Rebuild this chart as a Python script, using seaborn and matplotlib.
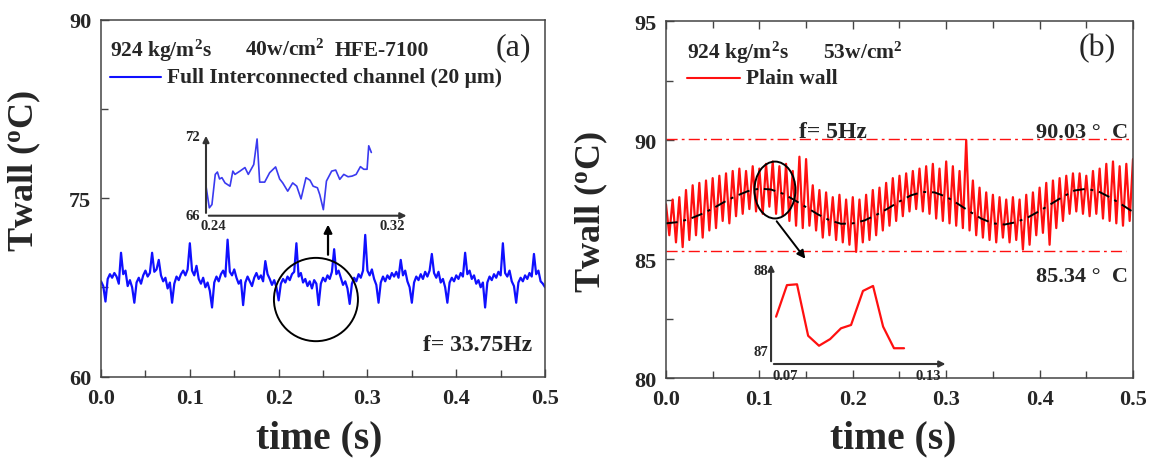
import numpy as np
import pandas as pd
import matplotlib
matplotlib.use("Agg")
import matplotlib.pyplot as plt
import seaborn as sns
from matplotlib.patches import Ellipse
from matplotlib.ticker import MultipleLocator, FormatStrFormatter

# ---------------- data ----------------
# (a) full interconnected channel, wall temperature sampled every 2.5 ms
twall_a = [
    68.0, 67.6, 66.3, 68.2, 68.6, 68.3, 68.7, 68.4, 67.8, 70.4,
    68.6, 68.9, 67.6, 68.1, 67.5, 66.2, 67.9, 68.3, 67.8, 68.5,
    68.9, 68.4, 68.7, 70.4, 68.8, 69.0, 69.8, 68.5, 68.0, 68.3,
    67.4, 67.9, 66.2, 67.8, 68.4, 68.1, 68.6, 68.9, 68.5, 69.0,
    71.2, 68.9, 68.5, 69.3, 68.2, 67.8, 68.3, 67.5, 67.9, 67.2,
    65.8, 67.9, 68.4, 68.0, 68.6, 68.9, 68.4, 71.5, 68.8, 68.5,
    69.0, 68.3, 67.8, 68.1, 66.0, 67.9, 68.4, 68.0, 67.6, 68.3,
    68.7, 68.2, 68.5, 68.0, 69.7, 68.6, 68.2, 67.7, 68.1, 67.5,
    66.4, 67.8, 68.2, 67.9, 68.4, 68.1, 68.6, 68.8, 71.2, 68.4,
    68.7, 67.9, 68.2, 67.6, 68.0, 67.4, 68.1, 67.8, 66.0, 67.8,
    68.3, 68.0, 68.5, 68.2, 68.8, 70.7, 68.6, 68.9, 68.3, 67.7,
    68.0, 67.4, 66.1, 67.8, 68.3, 68.0, 68.6, 68.3, 68.9, 71.9,
    68.9, 68.5, 69.0, 68.2, 67.7, 66.2, 67.9, 68.4, 68.0, 68.5,
    68.2, 68.7, 68.4, 68.8, 68.3, 69.8, 68.5, 68.9, 68.0, 67.5,
    66.2, 67.9, 68.4, 68.1, 68.6, 68.2, 68.8, 68.4, 68.9, 70.3,
    68.7, 68.3, 68.8, 67.9, 68.2, 67.5, 66.2, 67.9, 68.3, 68.0,
    68.5, 68.2, 68.7, 68.4, 70.4, 68.6, 68.9, 68.2, 68.5, 67.8,
    68.1, 67.5, 67.9, 65.8, 67.9, 68.4, 68.1, 68.6, 68.3, 68.8,
    68.5, 71.2, 68.7, 68.4, 68.9, 68.0, 67.6, 66.2, 67.9, 68.3,
    68.0, 68.5, 68.2, 68.7, 68.4, 70.3, 68.6, 68.9, 68.0, 67.8,
    67.5,
]

# zoomed window of (a)
t_zoom_a = [
    0.2400, 0.2414, 0.2425, 0.2439, 0.2448, 0.2457, 0.2467, 0.2480, 0.2501,
    0.2513, 0.2522, 0.2543, 0.2564, 0.2578, 0.2601, 0.2615, 0.2626, 0.2647,
    0.2668, 0.2693, 0.2710, 0.2723, 0.2744, 0.2765, 0.2782, 0.2800, 0.2821,
    0.2838, 0.2851, 0.2869, 0.2879, 0.2894, 0.2907, 0.2929, 0.2946, 0.2963,
    0.2980, 0.2998, 0.3015, 0.3032, 0.3050, 0.3064, 0.3078, 0.3085, 0.3096,
]
twall_zoom_a = [
    68.25, 66.60, 66.85, 69.15, 69.33, 68.80, 68.90, 68.50, 68.25,
    69.40, 69.15, 69.40, 69.67, 69.15, 69.90, 71.85, 68.56, 68.56,
    69.28, 69.72, 68.80, 68.50, 67.87, 68.50, 68.25, 67.28, 68.90,
    68.70, 68.25, 68.13, 67.60, 66.46, 68.64, 69.40, 69.48, 68.77,
    69.15, 68.97, 69.02, 69.15, 69.74, 69.54, 69.54, 71.33, 70.82,
]

# (b) plain wall, wall temperature (alternating crest / trough samples)
twall_b = [
    87.3,
    86.0, 87.5, 85.7, 87.6, 85.5, 87.9, 85.8, 88.1, 86.0, 88.2,
    85.9, 88.3, 86.2, 88.4, 86.3, 88.5, 86.6, 88.6, 86.5, 88.7,
    86.8, 88.8, 86.9, 88.7, 87.1, 88.9, 87.0, 88.8,
    86.9, 89.0, 87.2, 89.1, 86.9, 88.9, 86.8, 89.0, 86.6, 88.7,
    86.4, 89.3, 86.3, 89.2, 86.4, 88.1, 86.2, 87.9, 85.9, 87.8,
    86.0, 87.6, 85.8, 87.7, 85.7, 87.5, 85.6, 87.6,
    85.3, 87.5, 85.7, 87.7, 85.8, 87.9, 86.0, 88.0, 86.2, 88.2,
    86.4, 88.4, 86.6, 88.5, 86.8, 88.6, 87.0, 88.7, 87.1, 88.8,
    87.0, 88.9, 86.9, 89.0, 86.7, 88.8, 86.6, 89.1,
    86.5, 88.9, 86.4, 88.7, 86.3, 90.0, 86.2, 88.3, 86.0, 88.0,
    85.9, 87.8, 85.8, 87.7, 85.7, 87.6, 85.9, 87.5, 85.7, 87.6,
    85.8, 87.5, 85.4, 87.7, 85.6, 87.8, 86.0, 88.0,
    86.1, 88.2, 85.6, 88.3, 86.3, 88.4, 86.6, 88.5, 86.9, 88.6,
    87.0, 88.6, 86.9, 88.5, 86.8, 88.7, 86.9, 88.8, 86.7, 89.0,
    86.6, 89.1, 86.5, 88.9, 86.4, 89.0, 86.6, 89.2,
]

# 5 Hz fitted trend of (b), every 12.5 ms
trend_b = [
    86.50, 86.55, 86.68, 86.88, 87.12, 87.40, 87.65, 87.85, 87.96, 87.92,
    87.75, 87.48, 87.18, 86.88, 86.63, 86.48, 86.50, 86.62, 86.85, 87.12,
    87.42, 87.68, 87.82, 87.80, 87.62, 87.32, 87.00, 86.70, 86.50, 86.45,
    86.55, 86.75, 87.02, 87.32, 87.62, 87.88, 87.95, 87.85, 87.60, 87.30,
    86.98,
]

# zoomed window of (b)
t_zoom_b = [0.0719, 0.0760, 0.0798, 0.0840, 0.0881, 0.0923, 0.0964,
            0.1002, 0.1047, 0.1085, 0.1123, 0.1164, 0.1202]
twall_zoom_b = [87.45, 87.83, 87.84, 87.22, 87.10, 87.18, 87.31,
                87.35, 87.76, 87.82, 87.33, 87.07, 87.07]

t_max_level = 90.03
t_min_level = 85.34

time_a = np.linspace(0.0, 0.5, len(twall_a))
time_b = np.linspace(0.0, 0.5, len(twall_b))
time_trend = np.linspace(0.0, 0.5, len(trend_b))

df_a = pd.DataFrame({"time": time_a, "Twall": twall_a})
df_b = pd.DataFrame({"time": time_b, "Twall": twall_b})
df_trend = pd.DataFrame({"time": time_trend, "Twall": trend_b})
df_za = pd.DataFrame({"time": t_zoom_a, "Twall": twall_zoom_a})
df_zb = pd.DataFrame({"time": t_zoom_b, "Twall": twall_zoom_b})

# ---------------- style ----------------
sns.set_theme(style="ticks")
plt.rcParams["font.family"] = ["Liberation Serif", "DejaVu Serif"]
plt.rcParams["font.weight"] = "bold"
plt.rcParams["axes.labelweight"] = "bold"
plt.rcParams["mathtext.default"] = "regular"

BLUE = "#1010ff"
RED = "#ff1010"
SPINE = "#444444"
TXT = 15.5

fig = plt.figure(figsize=(11.56, 4.6), dpi=100)
fig.patch.set_facecolor("white")
ax_a = fig.add_axes([0.0874, 0.1793, 0.3841, 0.7761])
ax_b = fig.add_axes([0.5761, 0.1760, 0.4040, 0.7761])


def style_main(ax, ylo, yhi, ymajor, top_ticks):
    ax.set_xlim(0.0, 0.5)
    ax.set_ylim(ylo, yhi)
    ax.xaxis.set_major_locator(MultipleLocator(0.1))
    ax.xaxis.set_minor_locator(MultipleLocator(0.05))
    ax.xaxis.set_major_formatter(FormatStrFormatter("%.1f"))
    ax.yaxis.set_major_locator(MultipleLocator(ymajor))
    ax.yaxis.set_minor_locator(MultipleLocator(ymajor / 2))
    ax.tick_params(which="both", direction="in", width=1.0, color=SPINE,
                   labelsize=16, top=top_ticks, right=False)
    ax.tick_params(which="major", length=6)
    ax.tick_params(which="minor", length=5)
    ax.tick_params(axis="y", pad=7)
    ax.tick_params(axis="x", pad=8)
    for s in ax.spines.values():
        s.set_color(SPINE)
        s.set_linewidth(1.1)
        s.set_visible(True)
    ax.set_xlabel("time (s)", fontsize=28.5, fontweight="bold")
    ax.set_ylabel("Twall ($^{o}$C)", fontsize=26, fontweight="bold")


# ---------------- panel (a) ----------------
sns.lineplot(data=df_a, x="time", y="Twall", ax=ax_a, color=BLUE,
             linewidth=1.6, estimator=None, sort=False)
style_main(ax_a, 60, 90, 15, False)
ax_a.xaxis.set_label_coords(0.492, -0.12)
ax_a.yaxis.set_label_coords(-0.131, 0.577)

ax_a.text(0.02, 0.916, "924 kg/m$^{2}$s", transform=ax_a.transAxes,
          fontsize=TXT, va="center", ha="left")
ax_a.text(0.324, 0.916, "40w/cm$^{2}$", transform=ax_a.transAxes,
          fontsize=TXT, va="center", ha="left")
ax_a.text(0.527, 0.916, "HFE-7100", transform=ax_a.transAxes,
          fontsize=TXT, va="center", ha="left")
ax_a.plot([0.02, 0.135], [0.840, 0.840], transform=ax_a.transAxes,
          color=BLUE, lw=1.5)
ax_a.text(0.149, 0.840, "Full Interconnected channel (20 μm)",
          transform=ax_a.transAxes, fontsize=TXT, va="center", ha="left")
ax_a.text(0.928, 0.924, "(a)", transform=ax_a.transAxes, fontsize=23,
          fontweight="normal", va="center", ha="center")
ax_a.text(0.847, 0.09, "f= 33.75Hz", transform=ax_a.transAxes,
          fontsize=17, va="center", ha="center")

ax_a.add_patch(Ellipse((0.242, 66.47), 0.0946, 7.0, fill=False,
                       edgecolor="black", lw=1.4, zorder=5))
ax_a.annotate("", xy=(0.2556, 73.0), xytext=(0.2556, 70.0),
              arrowprops=dict(arrowstyle="-|>", color="black", lw=1.6,
                              mutation_scale=12))

# inset of (a)
ins_a = fig.add_axes([0.1782, 0.5289, 0.1644, 0.1711])
ins_a.patch.set_alpha(0)
sns.lineplot(data=df_za, x="time", y="Twall", ax=ins_a, color="#3a3af0",
             linewidth=1.2, estimator=None, sort=False)
ins_a.set_xlim(0.24, 0.32)
ins_a.set_ylim(66, 72)
ins_a.set_xticks([])
ins_a.set_yticks([])
ins_a.set_xlabel("")
ins_a.set_ylabel("")
for s in ins_a.spines.values():
    s.set_visible(False)
arrow_kw = dict(arrowstyle="-|>", color="#333333", lw=1.5, mutation_scale=9)
ins_a.annotate("", xy=(1.07, 0), xytext=(0, 0), xycoords="axes fraction",
               arrowprops=arrow_kw)
ins_a.annotate("", xy=(0, 1.05), xytext=(0, 0), xycoords="axes fraction",
               arrowprops=arrow_kw)
ins_a.text(-0.03, 1.0, "72", transform=ins_a.transAxes, fontsize=10.5,
           ha="right", va="center")
ins_a.text(-0.03, 0.0, "66", transform=ins_a.transAxes, fontsize=10.5,
           ha="right", va="center")
ins_a.text(0.04, -0.13, "0.24", transform=ins_a.transAxes, fontsize=10.5,
           ha="center", va="center")
ins_a.text(0.98, -0.13, "0.32", transform=ins_a.transAxes, fontsize=10.5,
           ha="center", va="center")

# ---------------- panel (b) ----------------
sns.lineplot(data=df_b, x="time", y="Twall", ax=ax_b, color=RED,
             linewidth=1.6, estimator=None, sort=False)
sns.lineplot(data=df_trend, x="time", y="Twall", ax=ax_b, color="black",
             linewidth=1.4, estimator=None, sort=False)
ax_b.lines[-1].set_linestyle((0, (6, 3, 1.5, 3)))
ax_b.axhline(t_max_level, color=RED, lw=1.0, ls=(0, (8, 3, 2, 3)))
ax_b.axhline(t_min_level, xmin=0.0, xmax=0.985, color=RED, lw=1.0,
             ls=(0, (8, 3, 2, 3)))
style_main(ax_b, 80, 95, 5, True)
ax_b.xaxis.set_label_coords(0.486, -0.115)
ax_b.yaxis.set_label_coords(-0.12, 0.468)

ax_b.text(0.045, 0.913, "924 kg/m$^{2}$s", transform=ax_b.transAxes,
          fontsize=TXT, va="center", ha="left")
ax_b.text(0.336, 0.913, "53w/cm$^{2}$", transform=ax_b.transAxes,
          fontsize=TXT, va="center", ha="left")
ax_b.plot([0.045, 0.158], [0.840, 0.840], transform=ax_b.transAxes,
          color=RED, lw=1.5)
ax_b.text(0.171, 0.840, "Plain wall", transform=ax_b.transAxes,
          fontsize=TXT, va="center", ha="left")
ax_b.text(0.923, 0.927, "(b)", transform=ax_b.transAxes, fontsize=23,
          fontweight="normal", va="center", ha="center")
ax_b.text(0.357, 0.69, "f= 5Hz", transform=ax_b.transAxes, fontsize=17,
          va="center", ha="center")
ax_b.text(0.989, 0.689, f"{t_max_level:.2f} °  C", transform=ax_b.transAxes,
          fontsize=16, va="center", ha="right")
ax_b.text(0.989, 0.286, f"{t_min_level:.2f} °  C", transform=ax_b.transAxes,
          fontsize=16, va="center", ha="right")

ax_b.add_patch(Ellipse((0.1167, 87.9), 0.0439, 2.39, fill=False,
                       edgecolor="black", lw=1.4, zorder=5))
ax_b.annotate("", xy=(0.151, 84.92), xytext=(0.1167, 86.68),
              arrowprops=dict(arrowstyle="-|>", color="black", lw=1.4,
                              mutation_scale=12))

# inset of (b)
ins_b = fig.add_axes([0.6670, 0.2065, 0.1375, 0.2022])
ins_b.patch.set_alpha(0)
sns.lineplot(data=df_zb, x="time", y="Twall", ax=ins_b, color=RED,
             linewidth=1.6, estimator=None, sort=False)
ins_b.set_xlim(0.07, 0.13)
ins_b.set_ylim(86.88, 88.0)
ins_b.set_xticks([])
ins_b.set_yticks([])
ins_b.set_xlabel("")
ins_b.set_ylabel("")
for s in ins_b.spines.values():
    s.set_visible(False)
ins_b.annotate("", xy=(1.115, 0), xytext=(0, 0), xycoords="axes fraction",
               arrowprops=arrow_kw)
ins_b.annotate("", xy=(0, 1.1), xytext=(0, 0), xycoords="axes fraction",
               arrowprops=arrow_kw)
ins_b.text(-0.02, 1.0, "88", transform=ins_b.transAxes, fontsize=10.5,
           ha="right", va="center")
ins_b.text(-0.02, 0.13, "87", transform=ins_b.transAxes, fontsize=10.5,
           ha="right", va="center")
ins_b.text(0.09, -0.12, "0.07", transform=ins_b.transAxes, fontsize=10.5,
           ha="center", va="center")
ins_b.text(0.99, -0.12, "0.13", transform=ins_b.transAxes, fontsize=10.5,
           ha="center", va="center")

fig.savefig("out.png", dpi=100, facecolor="white")
